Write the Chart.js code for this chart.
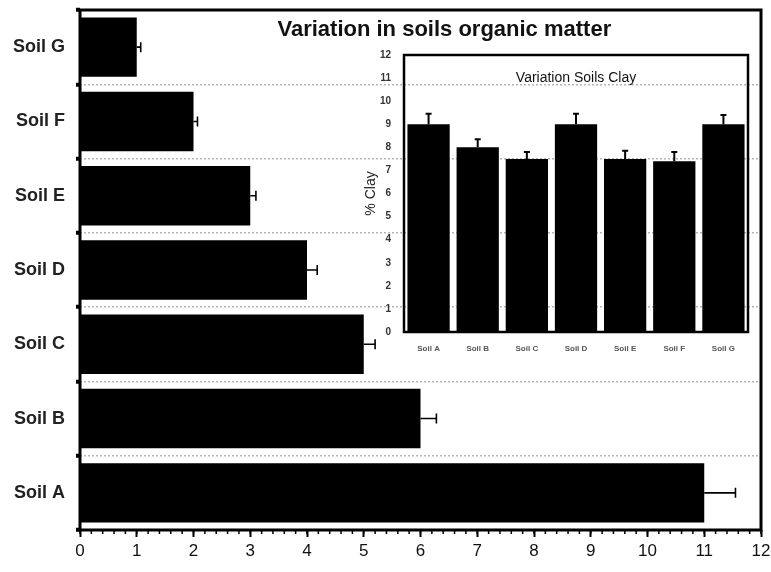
<!DOCTYPE html>
<html>
<head>
<meta charset="utf-8">
<script src="https://cdn.jsdelivr.net/npm/chart.js@4/dist/chart.umd.min.js"></script>
<style>
  html, body { margin: 0; padding: 0; background: #fff; }
  #wrap { position: relative; width: 771px; height: 572px; }
  #main { position: absolute; left: 0; top: 0; width: 771px; height: 572px; }
  #insetBox { position: absolute; left: 355px; top: 42px; width: 400px; height: 310px; }
</style>
</head>
<body>
<div id="wrap">
  <div id="main"><canvas id="mainChart"></canvas></div>
  <div id="insetBox"><canvas id="insetChart"></canvas></div>
</div>
<script>
// ---- data ----
const categories = ['Soil A', 'Soil B', 'Soil C', 'Soil D', 'Soil E', 'Soil F', 'Soil G'];
const organicMatter = [11, 6, 5, 4, 3, 2, 1];
const organicMatterErr = [0.55, 0.28, 0.2, 0.18, 0.1, 0.07, 0.07];
const clay = [9, 8, 7.5, 9, 7.5, 7.4, 9];
const clayErr = [0.45, 0.35, 0.3, 0.45, 0.35, 0.4, 0.4];
const mainTitle = 'Variation in soils organic matter';
const insetTitle = 'Variation Soils Clay';
const insetYTitle = '% Clay';
const mainXMax = 12;
const insetYMax = 12;

// ---- plugins ----
const framePlugin = {
  id: 'frame',
  afterDatasetsDraw(chart, args, opts) {
    const {ctx, chartArea: a} = chart;
    ctx.save();
    ctx.strokeStyle = '#000';
    ctx.lineWidth = opts.width || 3;
    ctx.strokeRect(a.left, a.top, a.right - a.left, a.bottom - a.top);
    ctx.restore();
  }
};

const errorBarPlugin = {
  id: 'errorBars',
  afterDatasetsDraw(chart, args, opts) {
    const {ctx} = chart;
    chart.data.datasets.forEach((ds, di) => {
      if (!ds.errors) return;
      const meta = chart.getDatasetMeta(di);
      const horizontal = chart.options.indexAxis === 'y';
      const vScale = horizontal ? chart.scales.x : chart.scales.y;
      ctx.save();
      ctx.strokeStyle = '#000';
      ctx.lineWidth = opts.lineWidth || 2;
      meta.data.forEach((el, i) => {
        const v = ds.data[i], e = ds.errors[i];
        const p0 = vScale.getPixelForValue(v);
        const p1 = vScale.getPixelForValue(v + e);
        const cap = opts.cap || 5;
        ctx.beginPath();
        if (horizontal) {
          ctx.moveTo(p0, el.y); ctx.lineTo(p1, el.y);
          ctx.moveTo(p1, el.y - cap); ctx.lineTo(p1, el.y + cap);
        } else {
          ctx.moveTo(el.x, p0); ctx.lineTo(el.x, p1);
          ctx.moveTo(el.x - cap, p1); ctx.lineTo(el.x + cap, p1);
        }
        ctx.stroke();
      });
      ctx.restore();
    });
  }
};

const textPlugin = {
  id: 'innerTitle',
  afterDraw(chart, args, opts) {
    if (!opts.text) return;
    const {ctx, chartArea: a} = chart;
    ctx.save();
    ctx.font = opts.font;
    ctx.fillStyle = opts.color || '#000';
    ctx.textAlign = 'center';
    ctx.textBaseline = 'middle';
    ctx.fillText(opts.text, a.left + (a.right - a.left) * opts.fx, a.top + opts.dy);
    ctx.restore();
  }
};

const minorTickPlugin = {
  id: 'minorTicks',
  afterDraw(chart, args, opts) {
    if (!opts.step) return;
    const {ctx} = chart;
    const xs = chart.scales.x;
    const y0 = chart.chartArea.bottom;
    ctx.save();
    ctx.strokeStyle = '#000';
    ctx.lineWidth = 1.5;
    for (let k = 0; k * opts.step <= xs.max + 1e-9; k++) {
      const x = xs.getPixelForValue(k * opts.step);
      ctx.beginPath();
      ctx.moveTo(x, y0);
      ctx.lineTo(x, y0 + 4);
      ctx.stroke();
    }
    ctx.restore();
  }
};

Chart.register(framePlugin, errorBarPlugin, textPlugin, minorTickPlugin);

function noPad(s) { s.paddingLeft = 0; s.paddingRight = 0; s.paddingTop = 0; s.paddingBottom = 0; }

// ---- main chart ----
new Chart(document.getElementById('mainChart'), {
  type: 'bar',
  data: {
    labels: categories,
    datasets: [{
      data: organicMatter,
      errors: organicMatterErr,
      backgroundColor: '#000',
      borderWidth: 0,
      categoryPercentage: 1,
      barPercentage: 0.8
    }]
  },
  options: {
    indexAxis: 'y',
    responsive: true,
    maintainAspectRatio: false,
    animation: false,
    layout: { padding: { top: 10, right: 10, left: 0, bottom: 0 } },
    plugins: {
      legend: { display: false },
      tooltip: { enabled: false },
      frame: { width: 3 },
      errorBars: { lineWidth: 1.6, cap: 5 },
      innerTitle: { text: mainTitle, font: 'bold 22px "Liberation Sans", Arial, sans-serif', fx: 0.535, dy: 20, color: '#111' },
      minorTicks: { step: 0.2 }
    },
    scales: {
      x: {
        min: 0, max: mainXMax,
        ticks: { stepSize: 1, color: '#111', font: { family: '"Liberation Sans", Arial, sans-serif', size: 17 }, padding: 4 },
        grid: { drawOnChartArea: false, drawTicks: true, tickLength: 7, tickColor: '#000', tickWidth: 2 },
        border: { display: false },
        afterFit(s) { s.height = 42; noPad(s); }
      },
      y: {
        reverse: true,
        ticks: { color: '#222', font: { family: '"Liberation Sans", Arial, sans-serif', size: 18, weight: 'bold' }, padding: 11 },
        grid: { color: '#b5b5b5', lineWidth: 1.5, tickLength: 4, tickColor: '#000', tickWidth: 4, tickBorderDash: [] },
        border: { display: false, dash: [2, 2] },
        afterFit(s) { s.width = 80; noPad(s); }
      }
    }
  }
});

// ---- inset chart ----
new Chart(document.getElementById('insetChart'), {
  type: 'bar',
  data: {
    labels: categories,
    datasets: [{
      data: clay,
      errors: clayErr,
      backgroundColor: '#000',
      borderWidth: 0,
      categoryPercentage: 1,
      barPercentage: 0.86
    }]
  },
  options: {
    responsive: true,
    maintainAspectRatio: false,
    animation: false,
    layout: { padding: { top: 13, right: 7, left: 0, bottom: 0 } },
    plugins: {
      legend: { display: false },
      tooltip: { enabled: false },
      frame: { width: 2.5 },
      errorBars: { lineWidth: 2, cap: 3 },
      innerTitle: { text: insetTitle, font: '14px "Liberation Sans", Arial, sans-serif', fx: 0.5, dy: 23, color: '#111' },
      minorTicks: { step: 0 }
    },
    scales: {
      x: {
        ticks: { color: '#555', font: { family: '"Liberation Sans", Arial, sans-serif', size: 8, weight: 'bold' }, padding: 4, maxRotation: 0 },
        grid: { display: false },
        border: { display: false },
        afterFit(s) { s.height = 20; noPad(s); }
      },
      y: {
        min: 0, max: insetYMax,
        ticks: { stepSize: 1, color: '#333', font: { family: '"Liberation Sans", Arial, sans-serif', size: 10, weight: 'bold' }, padding: 5 },
        grid: { display: false },
        border: { display: false },
        title: { display: true, text: insetYTitle, color: '#222', font: { family: '"Liberation Sans", Arial, sans-serif', size: 14 }, padding: { top: 8, bottom: 0 } },
        afterFit(s) { s.width = 49; noPad(s); }
      }
    }
  }
});
</script>
</body>
</html>
